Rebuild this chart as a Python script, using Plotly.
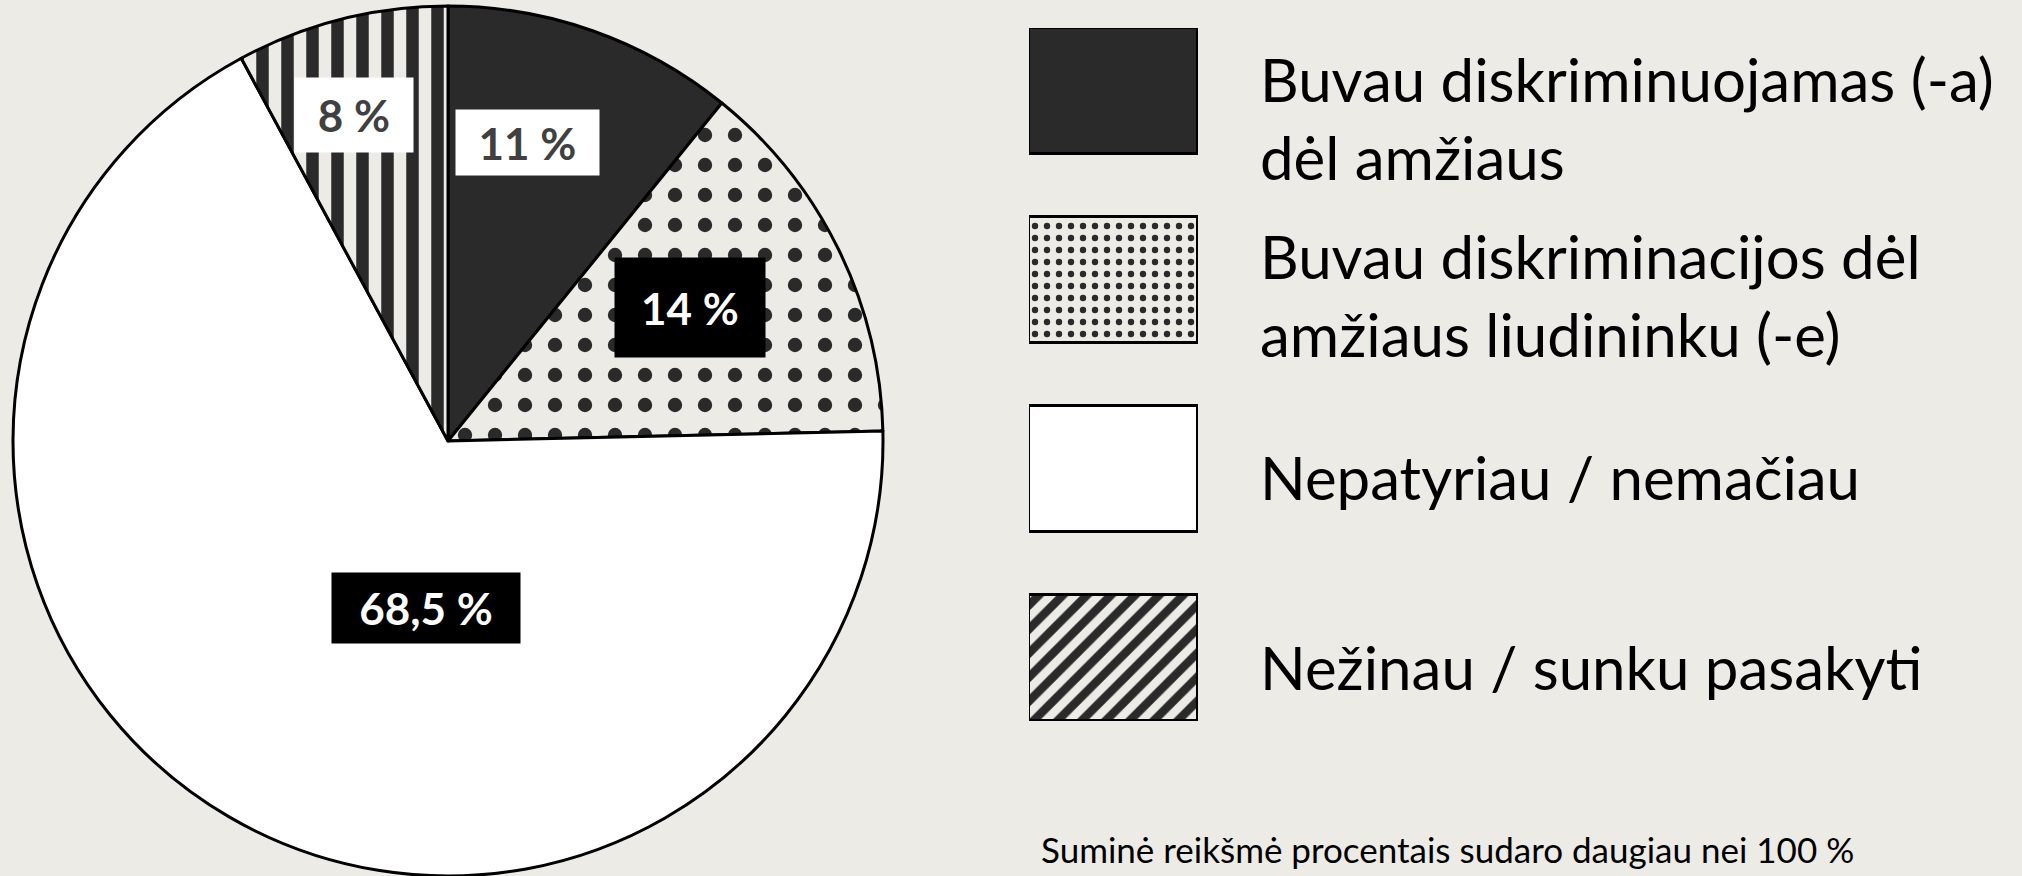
import plotly.graph_objects as go

# Data
categories = [
    'Buvau diskriminuojamas (-a)<br>dėl amžiaus',
    'Buvau diskriminacijos dėl<br>amžiaus liudininku (-e)',
    'Nepatyriau / nemačiau',
    'Nežinau / sunku pasakyti',
]
values = [11, 14, 68.5, 8]
value_labels = ['11 %', '14 %', '68,5 %', '8 %']
footnote = 'Suminė reikšmė procentais sudaro daugiau nei 100 %'

bg = '#ecebe6'
dark = '#2a2a2a'
W, H = 2022, 876

fill_colors = [dark, bg, '#ffffff', bg]
pie_shapes = ['', '.', '', '|']
legend_shapes = ['', '.', '', '/']
legend_sizes = [10, 12, 10, 17]
legend_solidity = [0.3, 0.22, 0.3, 0.5]

fig = go.Figure()

# Pie
fig.add_trace(go.Pie(
    labels=categories,
    values=values,
    sort=False,
    direction='clockwise',
    rotation=0,
    textinfo='none',
    hoverinfo='label+value',
    showlegend=False,
    domain={'x': [13 / W, 883 / W], 'y': [0, 1 - 6 / H]},
    marker=dict(
        colors=fill_colors,
        line=dict(color='black', width=3),
        pattern=dict(
            shape=pie_shapes,
            fgcolor=dark,
            bgcolor=fill_colors,
            size=[10, 30, 10, 25],
            solidity=[0.3, 0.18, 0.3, 0.5],
            fillmode='replace',
        ),
    ),
))

# Legend swatches as bars, one trace per category
for i, cat in enumerate(categories):
    pat = dict(shape=legend_shapes[i], fgcolor=dark, bgcolor=fill_colors[i],
               size=legend_sizes[i], solidity=legend_solidity[i], fillmode='replace')
    fig.add_trace(go.Bar(
        x=[1],
        y=[cat],
        orientation='h',
        width=0.667,
        showlegend=False,
        hoverinfo='y',
        marker=dict(color=fill_colors[i] if legend_shapes[i] == '' else dark,
                    line=dict(color='black', width=3),
                    pattern=pat),
    ))

# legend text
legend_y = [118, 295, 477, 667]
for cat, ly in zip(categories, legend_y):
    fig.add_annotation(
        text=cat, xref='paper', yref='paper',
        x=1258 / W, y=1 - ly / H, xanchor='left', yanchor='middle',
        align='left', showarrow=False,
        font=dict(family='Lato', size=60, color='black'),
    )

# value labels in boxes (px centre, box size, box colour, text colour)
label_pos = [(527, 142), (690, 307), (426, 608), (354, 115)]
label_box = [(143, 65), (150, 99), (188, 70), (118, 74)]
label_bg = ['white', 'black', 'black', 'white']
label_fc = ['#404040', 'white', 'white', '#404040']
for txt, (px, py), (bw, bh), bc, fc in zip(value_labels, label_pos, label_box, label_bg, label_fc):
    fig.add_annotation(
        text='<b>' + txt + '</b>', xref='paper', yref='paper',
        x=px / W, y=1 - py / H, xanchor='center', yanchor='middle',
        showarrow=False, width=bw, height=bh, bgcolor=bc, borderpad=0,
        font=dict(family='Lato', size=44, color=fc),
    )

# footnote, kept fully inside the page
fig.add_annotation(
    text=footnote, xref='paper', yref='paper',
    x=1039 / W, y=0.004, xanchor='left', yanchor='bottom',
    showarrow=False,
    font=dict(family='Lato', size=35, color='black'),
)

fig.update_layout(
    width=W, height=H,
    margin=dict(l=0, r=0, t=0, b=0),
    paper_bgcolor=bg, plot_bgcolor=bg,
    xaxis=dict(domain=[1029 / W, 1198 / W], range=[0, 1], visible=False, fixedrange=True),
    yaxis=dict(domain=[1 - 721 / H, 1 - 28 / H], type='category',
               categoryorder='array', categoryarray=categories,
               range=[3.333, -0.333], visible=False, fixedrange=True),
    bargap=0,
)

# drop the default page margin so the figure sits at the window's corner
fig.write_html("out.html", config={'displayModeBar': False},
               post_script="document.body.style.margin='0';document.body.style.background='" + bg + "';")
